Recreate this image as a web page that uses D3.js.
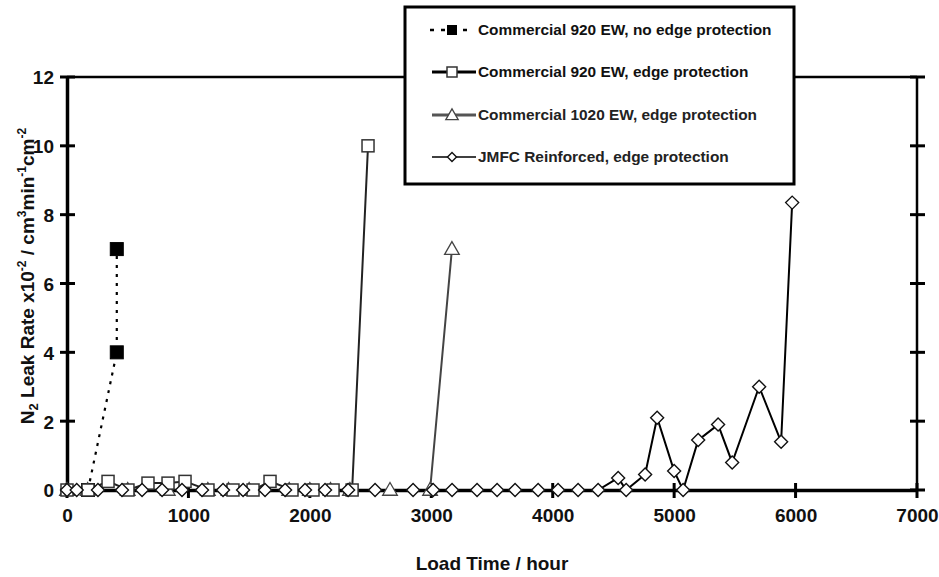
<!DOCTYPE html>
<html>
<head>
<meta charset="utf-8">
<script src="https://cdn.jsdelivr.net/npm/d3@7"></script>
<style>
  html, body { margin: 0; padding: 0; background: #fff; }
  svg { display: block; font-family: "Liberation Sans", Arial, sans-serif; }
</style>
</head>
<body>
<svg id="chart" width="939" height="577"></svg>
<script>
// Leak rate of gasket/MEA configurations versus load time
const xTicks = [0, 1000, 2000, 3000, 4000, 5000, 6000, 7000];
const yTicks = [0, 2, 4, 6, 8, 10, 12];

const seriesNames = [
  "Commercial 920 EW, no edge protection",
  "Commercial 920 EW, edge protection",
  "Commercial 1020 EW, edge protection",
  "JMFC Reinforced, edge protection"
];

// Commercial 920 EW, no edge protection
const hoursNoEdge920 = [173, 410, 410];
const leakNoEdge920 = [0, 4.0, 7.0];

// Commercial 920 EW, edge protection
const hoursEdge920 = [0, 173, 338, 502, 667, 832, 972, 1161, 1367, 1532, 1672, 1853, 2026, 2191, 2348, 2479];
const leakEdge920 = [0, 0, 0.25, 0, 0.2, 0.2, 0.25, 0, 0, 0, 0.25, 0, 0, 0, 0, 10.0];

// Commercial 1020 EW, edge protection
const hoursEdge1020 = [0, 170, 500, 830, 1160, 1330, 1500, 1830, 2000, 2170, 2330, 2660, 2990, 3170];
const leakEdge1020 = [0, 0, 0, 0, 0, 0, 0, 0, 0, 0, 0, 0, 0, 7.0];

// JMFC Reinforced, edge protection
const hoursJMFC = [0, 80, 255, 453, 618, 783, 947, 1112, 1285, 1450, 1631, 1796, 1960, 2125, 2315, 2537,
  2850, 3015, 3171, 3377, 3542, 3690, 3880, 4044, 4209, 4374, 4539, 4605, 4761, 4860, 5000, 5074,
  5198, 5362, 5478, 5700, 5881, 5972];
const leakJMFC = [0, 0, 0, 0, 0, 0, 0, 0, 0, 0, 0, 0, 0, 0, 0, 0,
  0, 0, 0, 0, 0, 0, 0, 0, 0, 0, 0.35, 0, 0.45, 2.1, 0.55, 0,
  1.45, 1.9, 0.8, 3.0, 1.4, 8.35];

const svg = d3.select("#chart");
const plotLeft = 67, plotRight = 917, plotTop = 77, plotBottom = 490;

const x = d3.scaleLinear().domain([0, 7000]).range([plotLeft, plotRight]);
const y = d3.scaleLinear().domain([0, 12]).range([plotBottom, plotTop]);

const zip = (hs, vs) => hs.map((h, i) => ({ h, v: vs[i] }));
const line = d3.line().x(d => x(d.h)).y(d => y(d.v));

// Frame (top and right)
svg.append("line").attr("x1", plotLeft).attr("x2", plotRight).attr("y1", plotTop).attr("y2", plotTop)
  .attr("stroke", "#000").attr("stroke-width", 2.5);
svg.append("line").attr("x1", plotRight).attr("x2", plotRight).attr("y1", plotTop).attr("y2", plotBottom)
  .attr("stroke", "#000").attr("stroke-width", 2.5);

// Crossing tick marks on left, right and bottom
const tickG = svg.append("g").attr("stroke", "#000").attr("stroke-width", 3);
yTicks.forEach(t => {
  tickG.append("line").attr("x1", plotLeft - 7).attr("x2", plotLeft + 8).attr("y1", y(t)).attr("y2", y(t));
  tickG.append("line").attr("x1", plotRight - 7).attr("x2", plotRight + 8).attr("y1", y(t)).attr("y2", y(t));
});
xTicks.forEach(t => {
  tickG.append("line").attr("x1", x(t)).attr("x2", x(t)).attr("y1", plotBottom - 7).attr("y2", plotBottom + 8);
});

// Left and bottom axes through d3-axis, styled as heavy lines
const xAxis = svg.append("g").attr("transform", `translate(0,${plotBottom})`)
  .call(d3.axisBottom(x).tickValues(xTicks).tickSize(0).tickPadding(14).tickFormat(d3.format("d")));
const yAxis = svg.append("g").attr("transform", `translate(${plotLeft},0)`)
  .call(d3.axisLeft(y).tickValues(yTicks).tickSize(0).tickPadding(12).tickFormat(d3.format("d")));
[xAxis, yAxis].forEach(g => {
  g.select(".domain").attr("stroke", "#000").attr("stroke-width", 3.5);
  g.selectAll("text").attr("fill", "#111").attr("font-size", 19).attr("font-weight", "bold")
    .attr("font-family", "Liberation Sans, Arial, sans-serif");
});
xAxis.selectAll("text").attr("dy", null).attr("y", 32);
yAxis.selectAll("text").attr("x", -13).attr("dy", "0.36em");

// Axis titles
svg.append("text").attr("x", (plotLeft + plotRight) / 2).attr("y", 570).attr("text-anchor", "middle")
  .attr("font-size", 19).attr("font-weight", "bold").attr("fill", "#111").text("Load Time / hour");

const yt = svg.append("text").attr("transform", "translate(34,276) rotate(-90)")
  .attr("text-anchor", "middle").attr("font-size", 19).attr("font-weight", "bold").attr("fill", "#111");
const parts = [
  ["N", 0], ["2", -1], [" Leak Rate x10", 0], ["-2", 1], [" / cm", 0], ["3", 1],
  ["min", 0], ["-1", 1], ["cm", 0], ["-2", 1]
];
parts.forEach(([s, k]) => {
  const ts = yt.append("tspan").text(s);
  if (k === 1) ts.attr("font-size", 12).attr("baseline-shift", "65%");
  if (k === -1) ts.attr("font-size", 13).attr("baseline-shift", "-30%");
});

// Marker shapes
function marker(g, kind, cx, cy, s) {
  if (kind === "filled") {
    g.append("rect").attr("x", cx - s / 2).attr("y", cy - s / 2).attr("width", s).attr("height", s)
      .attr("fill", "#000").attr("stroke", "#000");
  } else if (kind === "square") {
    g.append("rect").attr("x", cx - s / 2).attr("y", cy - s / 2).attr("width", s).attr("height", s)
      .attr("fill", "#fff").attr("stroke", "#333").attr("stroke-width", 1.5);
  } else if (kind === "triangle") {
    g.append("path").attr("d", d3.symbol(d3.symbolTriangle, s * s * 0.55)())
      .attr("transform", `translate(${cx},${cy + 1})`)
      .attr("fill", "#fff").attr("stroke", "#444").attr("stroke-width", 1.3);
  } else {
    g.append("path").attr("d", `M0,${-s / 2}L${s / 2},0L0,${s / 2}L${-s / 2},0Z`)
      .attr("transform", `translate(${cx},${cy})`)
      .attr("fill", "#fff").attr("stroke", "#111").attr("stroke-width", 1.4);
  }
}

const series = [
  { data: zip(hoursNoEdge920, leakNoEdge920), kind: "filled", size: 13, stroke: "#000", width: 2.2, dash: "3,6" },
  { data: zip(hoursEdge1020, leakEdge1020), kind: "triangle", size: 13, stroke: "#444", width: 2, dash: null },
  { data: zip(hoursEdge920, leakEdge920), kind: "square", size: 12, stroke: "#222", width: 2, dash: null },
  { data: zip(hoursJMFC, leakJMFC), kind: "diamond", size: 13, stroke: "#000", width: 2, dash: null }
];

const plot = svg.append("g");
series.forEach(s => {
  const p = plot.append("path").datum(s.data).attr("d", line)
    .attr("fill", "none").attr("stroke", s.stroke).attr("stroke-width", s.width);
  if (s.dash) p.attr("stroke-dasharray", s.dash);
});
series.forEach(s => {
  const g = plot.append("g");
  s.data.forEach(d => marker(g, s.kind, x(d.h), y(d.v), s.size));
});

// Legend
const lg = svg.append("g");
lg.append("rect").attr("x", 405).attr("y", 7).attr("width", 389).attr("height", 177)
  .attr("fill", "#fff").attr("stroke", "#000").attr("stroke-width", 3);
const legendY = [30, 72, 115, 157];
const legendStyle = [
  { kind: "filled", size: 9, stroke: "#000", width: 2.5, dash: "4,7", fill: "#111" },
  { kind: "square", size: 10, stroke: "#000", width: 3, dash: null, fill: "#111" },
  { kind: "triangle", size: 11, stroke: "#555", width: 3, dash: null, fill: "#222" },
  { kind: "diamond", size: 9, stroke: "#000", width: 1.6, dash: null, fill: "#222" }
];
seriesNames.forEach((name, i) => {
  const st = legendStyle[i];
  const ly = legendY[i];
  const l = lg.append("line").attr("x1", 432).attr("x2", 476).attr("y1", ly).attr("y2", ly)
    .attr("stroke", st.stroke).attr("stroke-width", st.width);
  if (st.dash) l.attr("stroke-dasharray", st.dash).attr("x1", 430).attr("x2", 470);
  marker(lg, st.kind, 452, ly, st.size);
  const t = lg.append("text").attr("x", 478).attr("y", ly + 5).attr("font-size", 14)
    .attr("font-weight", "bold").attr("fill", st.fill).text(name);
  // slightly wide lettering
  const w = t.node().getComputedTextLength();
  t.attr("textLength", w * 1.1).attr("lengthAdjust", "spacingAndGlyphs");
});
</script>
</body>
</html>
